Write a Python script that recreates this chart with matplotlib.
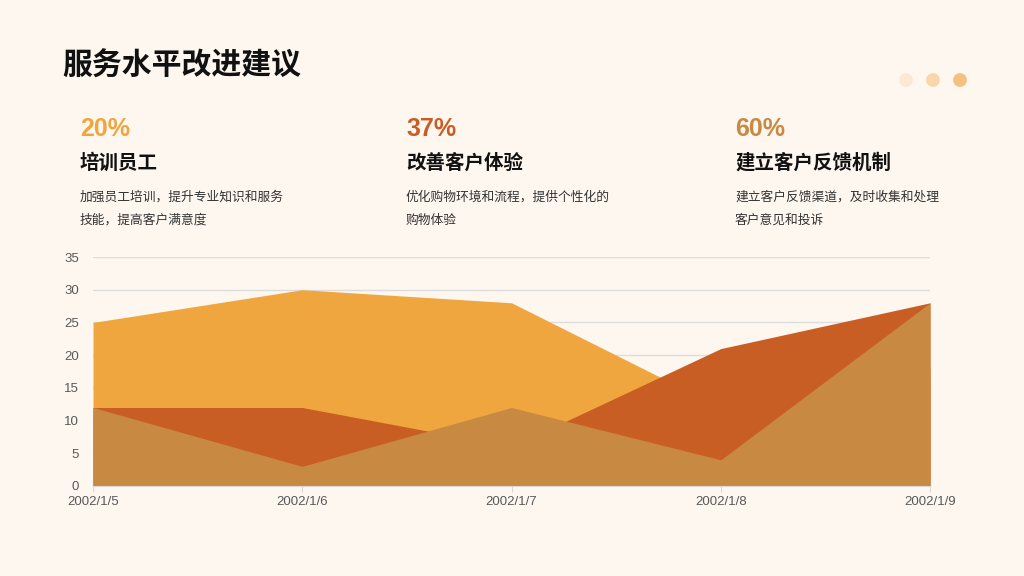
import numpy as np
import matplotlib.pyplot as plt
from matplotlib.patches import Circle

#============================================
# data
#============================================
dates = ['2002/1/5', '2002/1/6', '2002/1/7', '2002/1/8', '2002/1/9']
series_a = [25, 30, 28, 12, 18]   # back, light orange
series_b = [12, 12, 6, 21, 28]    # middle, dark orange
series_c = [12, 3, 12, 4, 28]     # front, tan

pcts = ['20%', '37%', '60%']
heads = ['培训员工', '改善客户体验', '建立客户反馈机制']
descs = [['加强员工培训，提升专业知识和服务', '技能，提高客户满意度'],
         ['优化购物环境和流程，提供个性化的', '购物体验'],
         ['建立客户反馈渠道，及时收集和处理', '客户意见和投诉']]

#============================================
# style
#============================================
bg = '#FEF7F0'
c_a = '#F0A63F'
c_b = '#C95E24'
c_c = '#C88A43'
plt.rcParams['font.family'] = ['Noto Sans CJK SC', 'DejaVu Sans']
latin = ['Liberation Sans', 'DejaVu Sans']

W, H = 1024, 576
fig = plt.figure(figsize=(W/100, H/100), dpi=100, facecolor=bg)

def px(x, y):
    return x/W, 1 - y/H

# title
fig.text(*px(62, 66), '服务水平改进建议', fontsize=21.5, fontweight='bold',
         color='#111111', va='center', ha='left')

# decorative dots
for x, c in zip([906, 933, 960], ['#FBE9D3', '#F9D7AA', '#F4C17E']):
    fig.add_artist(Circle((x/100, (H-80)/100), 0.062, color=c,
                          transform=fig.dpi_scale_trans))

# three text columns
col_x = [80, 406, 735]
for i in range(3):
    x = col_x[i]
    fig.text(*px(x, 129), pcts[i], fontsize=18, fontweight='bold',
             color=[c_a, c_b, c_c][i], va='center', ha='left', family=latin)
    fig.text(*px(x, 163), heads[i], fontsize=14, fontweight='bold',
             color='#111111', va='center', ha='left')
    for j, line in enumerate(descs[i]):
        fig.text(*px(x, 197 + 23*j), line, fontsize=9.2,
                 color='#333333', va='center', ha='left')

#============================================
# area chart
#============================================
l, r, t, b = 93, 930, 257, 486
ax = fig.add_axes([l/W, 1 - b/H, (r-l)/W, (b-t)/H])
ax.set_facecolor(bg)
xs = np.arange(len(dates))
ax.fill_between(xs, 0, series_a, color=c_a, lw=0, zorder=2)
ax.fill_between(xs, 0, series_b, color=c_b, lw=0, zorder=3)
ax.fill_between(xs, 0, series_c, color=c_c, lw=0, zorder=4)

ax.set_xlim(0, len(dates)-1)
ax.set_ylim(0, 35)
ax.set_yticks(np.arange(0, 36, 5))
ax.set_xticks(xs)
ax.set_xticklabels(dates)
ax.grid(axis='y', color='#DDDDDD', lw=1, zorder=1)
ax.set_axisbelow(True)
for s in ['top', 'right', 'left']:
    ax.spines[s].set_visible(False)
ax.spines['bottom'].set_color('#D9D9D9')
ax.spines['bottom'].set_zorder(5)
ax.tick_params(axis='y', length=0, pad=10, labelsize=9.5, labelcolor='#595959')
ax.tick_params(axis='x', length=4, color='#D9D9D9', pad=3,
               labelsize=9.5, labelcolor='#595959')
for lab in ax.get_xticklabels() + ax.get_yticklabels():
    lab.set_family(latin)

fig.savefig('out.png', dpi=100, facecolor=bg)
